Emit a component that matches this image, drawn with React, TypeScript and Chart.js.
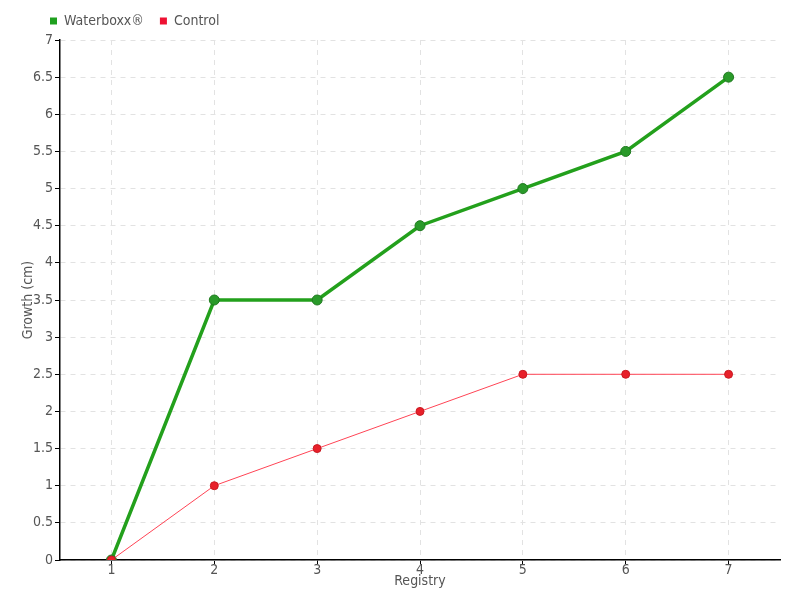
import React, { useEffect, useRef } from "react";
import { Chart, registerables } from "chart.js";

Chart.register(...registerables);

const categories = ["1", "2", "3", "4", "5", "6", "7"];
const waterboxx = [0, 3.5, 3.5, 4.5, 5, 5.5, 6.5];
const control = [0, 1, 1.5, 2, 2.5, 2.5, 2.5];
const seriesNames = ["Waterboxx®", "Control"];
const yTitle = "Growth (cm)";
const xTitle = "Registry";

const FONT = "'DejaVu Sans Condensed', 'Liberation Sans Narrow', sans-serif";
const TEXT = "#555555";
const legendColors = ["#1fa01f", "#ee1133"];

const legendShift = {
  id: "legendShift",
  afterLayout(chart: any) {
    const lg = chart.legend;
    if (lg) {
      lg.left += 14;
      lg.top -= 2;
    }
  },
};

export default function App() {
  const ref = useRef<HTMLCanvasElement>(null);
  useEffect(() => {
    if (!ref.current) return;
    const chart = new Chart(ref.current, {
      type: "line",
      data: {
        labels: categories,
        datasets: [
          {
            label: seriesNames[0],
            data: waterboxx,
            borderColor: "#23a01c",
            backgroundColor: "#28a020",
            borderWidth: 3.5,
            pointRadius: 5,
            pointBackgroundColor: "#2a9a2a",
            pointBorderColor: "#1f7a1f",
            pointBorderWidth: 1,
            order: 1,
          },
          {
            label: seriesNames[1],
            data: control,
            borderColor: "#ff4455",
            backgroundColor: "#ee1133",
            borderWidth: 1,
            pointRadius: 4,
            pointBackgroundColor: "#e8202a",
            pointBorderColor: "#c81a22",
            pointBorderWidth: 1,
            order: 0,
          },
        ],
      },
      options: {
        animation: false,
        responsive: false,
        layout: { padding: { left: 20, right: 20, top: 0, bottom: 10 } },
        plugins: {
          legend: {
            display: true,
            position: "top",
            align: "start",
            labels: {
              boxWidth: 7,
              boxHeight: 7,
              padding: 16,
              color: TEXT,
              font: { family: FONT, size: 14 },
              sort: (a: any, b: any) => a.datasetIndex - b.datasetIndex,
              generateLabels: (c: any) =>
                Chart.defaults.plugins.legend.labels.generateLabels(c).map((l: any, i: number) => ({
                  ...l,
                  lineWidth: 0,
                  fillStyle: legendColors[l.datasetIndex ?? i],
                  strokeStyle: legendColors[l.datasetIndex ?? i],
                })),
            },
          },
          tooltip: { enabled: false },
        },
        scales: {
          x: {
            offset: true,
            grid: {
              offset: false,
              color: "#e2e2e2",
              tickColor: "#000",
              tickLength: 4,
              tickBorderDash: [],
            },
            border: { color: "#000", width: 1.5, dash: [5, 5] },
            ticks: { color: TEXT, font: { family: FONT, size: 14 }, padding: -2 },
            title: { display: true, text: xTitle, color: TEXT, font: { family: FONT, size: 14 }, padding: 0 },
            afterFit: (s: any) => { s.height = 30; },
          },
          y: {
            min: 0,
            max: 7,
            ticks: {
              stepSize: 0.5,
              color: TEXT,
              font: { family: FONT, size: 14 },
              padding: 2,
              callback: (v: any) => String(v),
            },
            grid: {
              color: "#e2e2e2",
              tickColor: "#000",
              tickLength: 5,
              tickBorderDash: [],
            },
            border: { color: "#000", width: 1.5, dash: [5, 5] },
            title: { display: true, text: yTitle, color: TEXT, font: { family: FONT, size: 14 }, padding: 0 },
            afterFit: (s: any) => { s.width = 40; },
          },
        },
      } as any,
      plugins: [legendShift],
    });
    return () => chart.destroy();
  }, []);
  return (
    <div style={{ position: "fixed", left: 0, top: 0, width: 800, height: 600, background: "#fff" }}>
      <canvas ref={ref} width={800} height={600} />
    </div>
  );
}
